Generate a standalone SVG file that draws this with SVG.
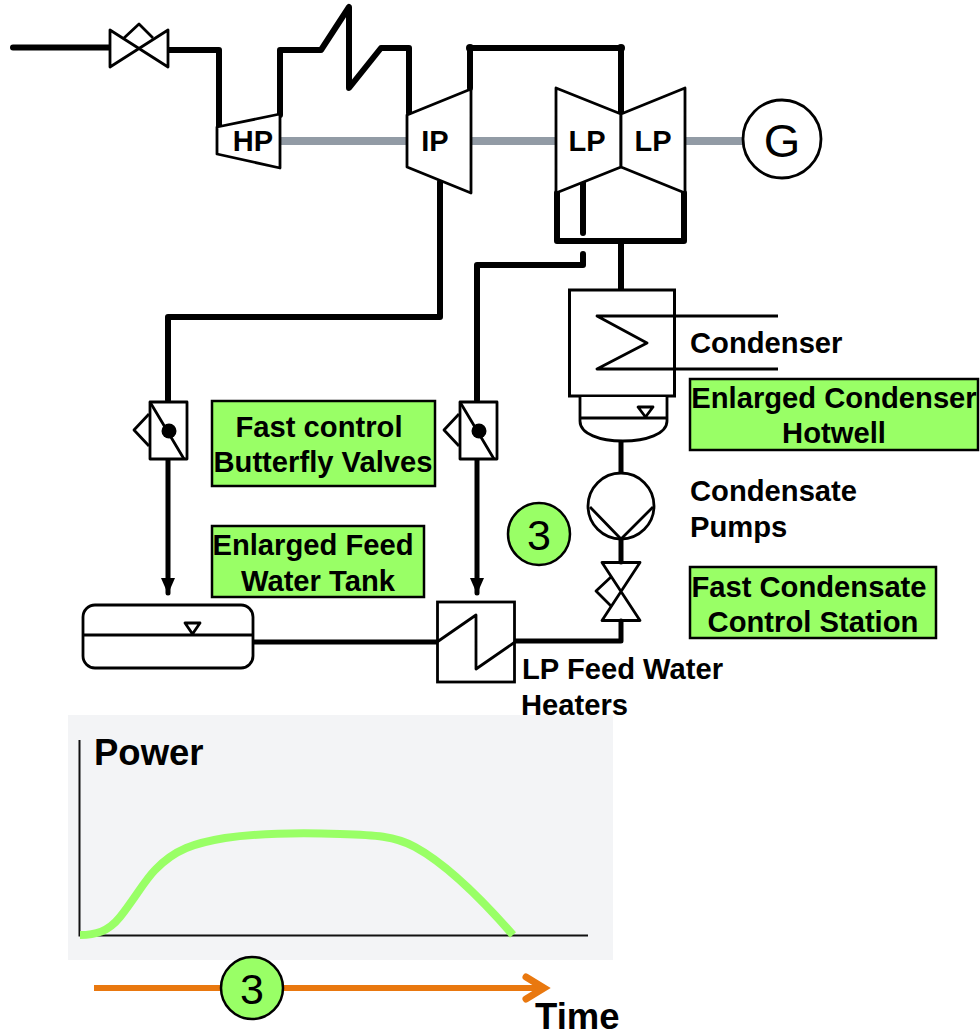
<svg xmlns="http://www.w3.org/2000/svg" width="980" height="1031" viewBox="0 0 980 1031">
<style>
text{font-family:"Liberation Sans",Arial,sans-serif;font-weight:bold;fill:#000}
.p{fill:none;stroke:#000;stroke-linecap:round;stroke-linejoin:round}
.t{stroke-width:6}
.m{stroke-width:5}
.s{fill:#fff;stroke:#000;stroke-width:2.800;stroke-linejoin:round}
.o{fill:none;stroke:#000;stroke-width:2.800;stroke-linejoin:round}
.g{fill:#99ff66;stroke:#000;stroke-width:2.500}
.sh{stroke:#929ba5;stroke-width:8;fill:none}
.l{font-size:29.200px}
.n{font-size:29px;text-anchor:middle}
.d{font-weight:normal}
</style>
<defs>
<marker id="ah" markerUnits="userSpaceOnUse" markerWidth="16" markerHeight="14" refX="15" refY="7" orient="auto"><path d="M0 0L16 7L0 14Z" fill="#000"/></marker>
</defs>
<g id="chart">
<rect x="68" y="715" width="545" height="245" fill="#f3f4f6"/>
<path d="M79.500 740V935.500H588" fill="none" stroke="#111" stroke-width="2"/>
<path d="M80 935C95 935 108 932 120 917C135 898 145 880 155 870C175 849 195 843 225 838C260 833 310 833 340 834C375 835 395 836 415 847C450 866 485 903 513 935" fill="none" stroke="#99ff66" stroke-width="8"/>
<text x="94" y="765" font-size="36.500">Power</text>
</g>
<g id="connectors">
<path class="sh" d="M280 141H408M470 141H556M685 141H744"/>
<path class="p t" d="M13 47.500H110M167 50H219V127M280 115V50H321L349 7V88L381 48H409V113M470 88V48H621V113"/>
<circle cx="470" cy="48" r="4"/><circle cx="621" cy="48" r="4"/>
<path class="p t" d="M557 193V241H684V193M583 182V233M583 254V265H477V400"/>
<path class="p t" d="M440 182V317H168V400"/>
<path class="p t" d="M621 241V290"/>
<path class="p m" d="M168 460V593" marker-end="url(#ah)"/>
<path class="p m" d="M477 460V593" marker-end="url(#ah)"/>
<path class="p m" d="M621 441V472M621 539V562M621 621V641H515M437 642H254"/>
</g>
<g id="valve-main"><path class="s" d="M110 30V67L168 30V67Z"/><path class="o" d="M124 38L139 24L153 38"/></g>
<g id="hp"><path class="s" d="M217 127L280 114V168L217 154Z"/><text class="n" x="253" y="151">HP</text></g>
<g id="ip"><path class="s" d="M407 115L471 89V193L407 167Z"/><text class="n" x="435" y="151">IP</text></g>
<g id="lp1"><path class="s" d="M556 88L621 114V167L556 193Z"/><text class="n" x="587" y="151">LP</text></g>
<g id="lp2"><path class="s" d="M685 88L621 114V167L685 193Z"/><text class="n" x="653" y="151">LP</text></g>
<g id="generator"><circle class="s" cx="782" cy="139" r="39"/><text class="d" x="782" y="157" font-size="47" text-anchor="middle">G</text></g>
<g id="condenser">
<rect x="569.500" y="290" width="105" height="106" fill="#fff" stroke="#000" stroke-width="3"/>
<path class="o" d="M778 316H597L647 343L597 369H778"/>
<text class="l" x="690" y="353">Condenser</text>
</g>
<g id="hotwell">
<path class="s" d="M580 397V421C580 434 600 441 623 441C646 441 667 434 667 421V397"/>
<path class="o" d="M580 418H667M638 407H653L645.500 417Z"/>
</g>
<g id="pump"><circle class="s" cx="621" cy="506" r="33"/><path class="o" d="M590 507L621 539L653 507"/></g>
<g id="valve-cond">
<path class="o" d="M611 577L596 591L611 606"/>
<path class="o" d="M602 562.500H640L602 620.500H640Z"/>
</g>
<g id="bv1"><rect class="s" x="150" y="402" width="37" height="57"/><path class="o" d="M150 402L184 459M149 414L134 430L149 446"/><circle cx="169" cy="431" r="7.500"/></g>
<g id="bv2"><rect class="s" x="460" y="402" width="37" height="57"/><path class="o" d="M460 402L494 459M459 414L444 430L459 446"/><circle cx="479" cy="431" r="7.500"/></g>
<g id="label-butterfly"><rect class="g" x="212" y="401" width="223" height="85"/><text class="l" text-anchor="middle" x="319" y="437">Fast control</text><text class="l" text-anchor="middle" x="323" y="472">Butterfly Valves</text></g>
<g id="label-tank"><rect class="g" x="212" y="526" width="212" height="71"/><text class="l" text-anchor="middle" x="313" y="555">Enlarged Feed</text><text class="l" text-anchor="middle" x="318" y="591">Water Tank</text></g>
<g id="feed-tank">
<rect x="83" y="605" width="170" height="63" rx="12" fill="#fff" stroke="#000" stroke-width="2.800"/>
<path class="o" d="M83 635H253M185 623H200L192.500 634Z"/>
</g>
<g id="heater">
<rect x="437.500" y="602" width="77" height="80" fill="#fff" stroke="#000" stroke-width="2.800"/>
<path class="o" d="M437 642L476 615V669L515 642"/>
<text class="l" x="522" y="679">LP Feed Water</text><text class="l" x="521" y="715">Heaters</text>
</g>
<g id="label-hotwell"><rect class="g" x="690" y="379" width="288" height="71"/><text class="l" text-anchor="middle" x="834" y="408">Enlarged Condenser</text><text class="l" text-anchor="middle" x="834" y="443">Hotwell</text></g>
<g id="label-pumps"><text class="l" x="690" y="501">Condensate</text><text class="l" x="690" y="537">Pumps</text></g>
<g id="label-station"><rect class="g" x="690" y="567" width="246" height="71"/><text class="l" text-anchor="middle" x="809" y="597">Fast Condensate</text><text class="l" text-anchor="middle" x="813" y="632">Control Station</text></g>
<g id="badge-top"><circle class="g" cx="539" cy="534" r="31"/><text class="d" x="539" y="550" font-size="43" text-anchor="middle">3</text></g>
<g id="time-arrow">
<path d="M94 988H542" stroke="#e9780f" stroke-width="6" fill="none"/>
<path d="M526 977L544 988L526 999" stroke="#e9780f" stroke-width="7" stroke-linecap="round" stroke-linejoin="miter" fill="none"/>
<circle class="g" cx="252" cy="988" r="31"/><text class="d" x="252" y="1004" font-size="43" text-anchor="middle">3</text>
<text x="535" y="1029" font-size="36.500">Time</text>
</g>
</svg>
